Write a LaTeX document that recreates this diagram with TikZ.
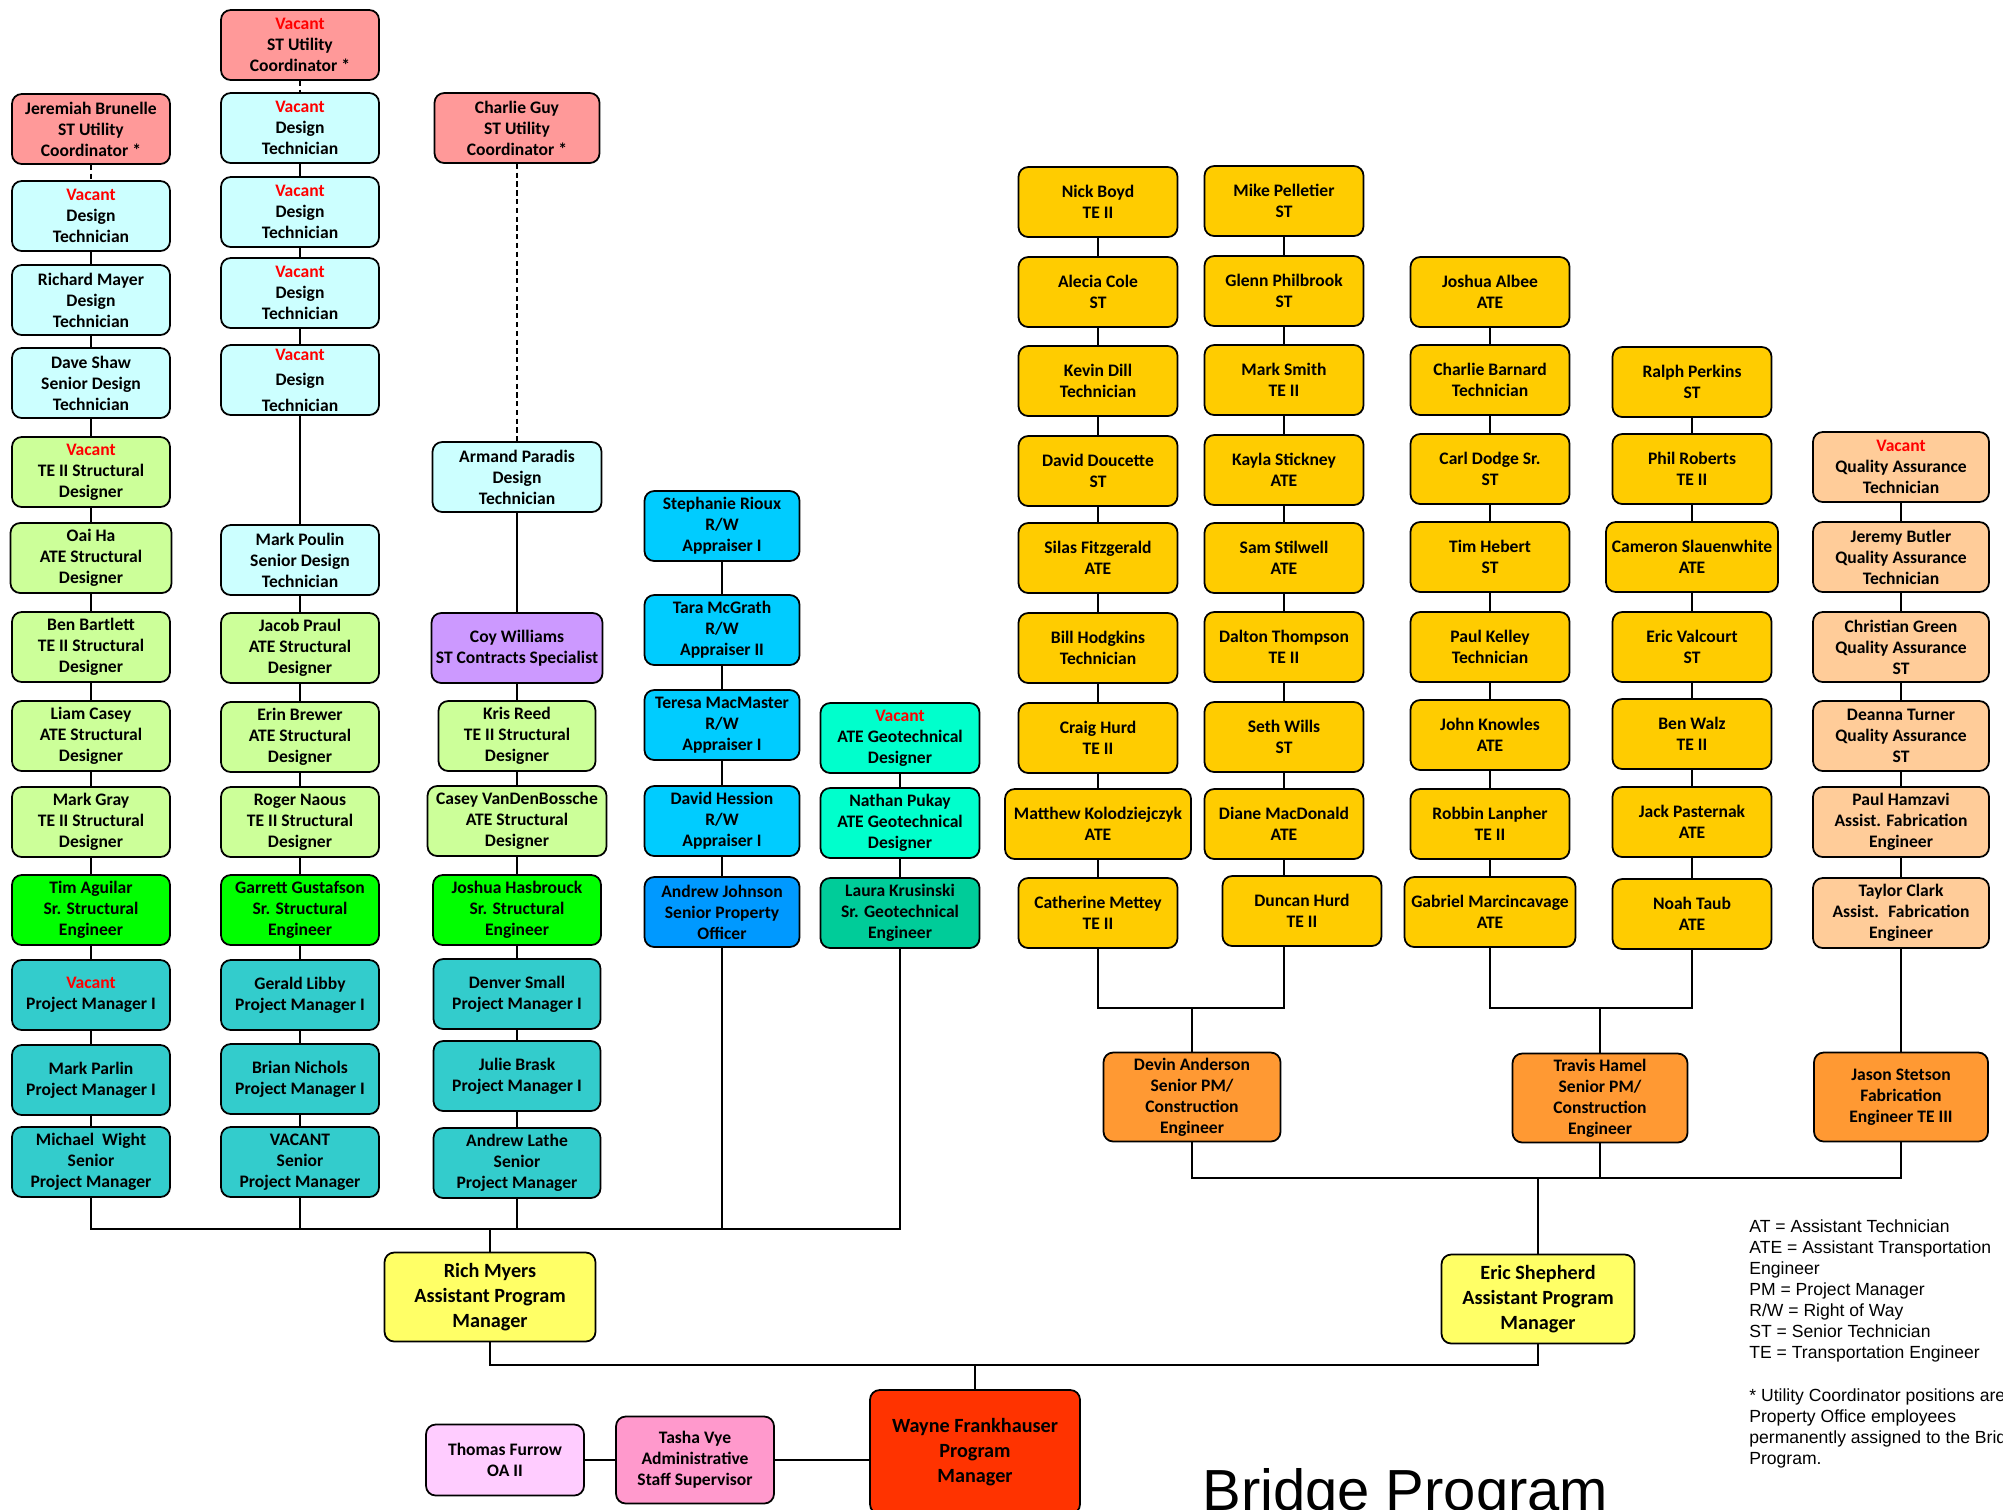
\documentclass[tikz,border=0pt]{standalone}
\usepackage{fontspec}
\setmainfont{Carlito}
\newfontfamily\arialfont{Liberation Sans}

\definecolor{utilpink}{HTML}{FF9999}
\definecolor{designcyan}{HTML}{CCFFFF}
\definecolor{structgreen}{HTML}{CCFF99}
\definecolor{srgreen}{HTML}{00FF00}
\definecolor{pmteal}{HTML}{33CCCC}
\definecolor{contractpurple}{HTML}{CC99FF}
\definecolor{rwblue}{HTML}{00CCFF}
\definecolor{spoblue}{HTML}{0099FF}
\definecolor{geoaqua}{HTML}{00FFCC}
\definecolor{srgeogreen}{HTML}{00CC99}
\definecolor{fieldgold}{HTML}{FFCC00}
\definecolor{qapeach}{HTML}{FFCC99}
\definecolor{consorange}{HTML}{FF9933}
\definecolor{apmyellow}{HTML}{FFFF66}
\definecolor{pgmred}{HTML}{FF3300}
\definecolor{adminpink}{HTML}{FF99CC}
\definecolor{oapink}{HTML}{FFCCFF}

\newcommand{\vac}{\textcolor{red}{Vacant}}

\tikzset{
  card/.style={draw=black, line width=1pt, rounded corners=5.5pt, align=center, inner sep=1pt,
    font=\bfseries\fontsize{10}{12}\selectfont, minimum width=3.16cm, minimum height=1.4cm},
  util/.style={card, fill=utilpink},
  design/.style={card, fill=designcyan},
  struct/.style={card, fill=structgreen},
  srstruct/.style={card, fill=srgreen},
  pm/.style={card, fill=pmteal},
  contract/.style={card, fill=contractpurple, minimum width=3.42cm},
  rw/.style={card, fill=rwblue, minimum width=3.1cm},
  spo/.style={card, fill=spoblue, minimum width=3.1cm},
  geo/.style={card, fill=geoaqua, minimum width=3.18cm},
  srgeo/.style={card, fill=srgeogreen, minimum width=3.18cm},
  field/.style={card, fill=fieldgold, minimum width=3.18cm},
  qa/.style={card, fill=qapeach, minimum width=3.52cm},
  cons/.style={card, fill=consorange, minimum height=1.78cm},
  apm/.style={card, fill=apmyellow, minimum height=1.78cm, font=\bfseries\fontsize{11.5}{14}\selectfont},
  link/.style={line width=1pt},
  dashlink/.style={line width=1pt, dash pattern=on 3pt off 2pt}
}

\begin{document}
\begin{tikzpicture}[x=0.02cm, y=-0.02cm]
  \path[use as bounding box, fill=white] (0,0) rectangle (2003,1509);

  % design / structural column 1
  \node[util] (jbrunelle) at (91,129) {Jeremiah Brunelle\\ST Utility\\Coordinator *};
  \node[design] (vdtA) at (91,216) {\vac\\Design\\Technician};
  \node[design] (rmayer) at (91,300) {Richard Mayer\\Design\\Technician};
  \node[design] (dshaw) at (91,383) {Dave Shaw\\Senior Design\\Technician};
  \node[struct] (vteA) at (91,472) {\vac\\TE II Structural\\Designer};
  \node[struct, minimum width=3.22cm] (oaiha) at (91,558) {Oai Ha\\ATE Structural\\Designer};
  \node[struct] (bbartlett) at (91,647) {Ben Bartlett\\TE II Structural\\Designer};
  \node[struct] (lcasey) at (91,736) {Liam Casey\\ATE Structural\\Designer};
  \node[struct] (mgray) at (91,822) {Mark Gray\\TE II Structural\\Designer};
  \node[srstruct] (taguilar) at (91,910) {Tim Aguilar\\Sr. Structural\\Engineer};
  \node[pm] (vpmA) at (91,995) {\vac\\Project Manager I};
  \node[pm] (mparlin) at (91,1080) {Mark Parlin\\Project Manager I};
  \node[pm] (mwight) at (91,1162) {Michael~ Wight\\Senior\\Project Manager};

  % column 2
  \node[util] (vstuc) at (300,45) {\vac\\ST Utility\\Coordinator *};
  \node[design] (vdtB) at (300,128) {\vac\\Design\\Technician};
  \node[design] (vdtC) at (300,212) {\vac\\Design\\Technician};
  \node[design] (vdtD) at (300,293) {\vac\\Design\\Technician};
  \node[design] (vdtE) at (300,380) {\vac\\[2.5pt]Design\\[2.5pt]Technician};
  \node[design] (mpoulin) at (300,560) {Mark Poulin\\Senior Design\\Technician};
  \node[struct] (jpraul) at (300,648) {Jacob Praul\\ATE Structural\\Designer};
  \node[struct] (ebrewer) at (300,737) {Erin Brewer\\ATE Structural\\Designer};
  \node[struct] (rnaous) at (300,822) {Roger Naous\\TE II Structural\\Designer};
  \node[srstruct] (ggustafson) at (300,910) {Garrett Gustafson\\Sr. Structural\\Engineer};
  \node[pm] (glibby) at (300,995) {Gerald Libby\\Project Manager I};
  \node[pm] (bnichols) at (300,1079) {Brian Nichols\\Project Manager I};
  \node[pm] (vspm) at (300,1162) {VACANT\\Senior\\Project Manager};

  % column 3
  \node[util, minimum width=3.3cm] (cguy) at (517,128) {Charlie Guy\\ST Utility\\Coordinator *};
  \node[design, minimum width=3.38cm] (aparadis) at (517,477) {Armand Paradis\\Design\\Technician};
  \node[contract] (cwilliams) at (517,648) {Coy Williams\\ST Contracts Specialist};
  \node[struct, minimum width=3.14cm] (kreed) at (517,736) {Kris Reed\\TE II Structural\\Designer};
  \node[struct, minimum width=3.58cm] (cvdb) at (517,821) {Casey VanDenBossche\\ATE Structural\\Designer};
  \node[srstruct, minimum width=3.36cm] (jhasbrouck) at (517,910) {Joshua Hasbrouck\\Sr. Structural\\Engineer};
  \node[pm, minimum width=3.34cm] (dsmall) at (517,994) {Denver Small\\Project Manager I};
  \node[pm, minimum width=3.34cm] (jbrask) at (517,1076) {Julie Brask\\Project Manager I};
  \node[pm, minimum width=3.34cm] (alathe) at (517,1163) {Andrew Lathe\\Senior\\Project Manager};

  % right of way
  \node[rw] (srioux) at (722,526) {Stephanie Rioux\\R/W\\Appraiser I};
  \node[rw] (tmcgrath) at (722,630) {Tara McGrath\\R/W\\Appraiser II};
  \node[rw] (tmacmaster) at (722,725) {Teresa MacMaster\\R/W\\Appraiser I};
  \node[rw] (dhession) at (722,821) {David Hession\\R/W\\Appraiser I};
  \node[spo] (ajohnson) at (722,912) {Andrew Johnson\\Senior Property\\Officer};

  % geotechnical
  \node[geo] (vgeo) at (900,738) {\vac\\ATE Geotechnical\\Designer};
  \node[geo] (npukay) at (900,823) {Nathan Pukay\\ATE Geotechnical\\Designer};
  \node[srgeo] (lkrusinski) at (900,913) {Laura Krusinski\\Sr. Geotechnical\\Engineer};

  % construction crews
  \node[field] (nboyd) at (1098,202) {Nick Boyd\\TE II};
  \node[field] (acole) at (1098,292) {Alecia Cole\\ST};
  \node[field] (kdill) at (1098,381) {Kevin Dill\\Technician};
  \node[field] (ddoucette) at (1098,471) {David Doucette\\ST};
  \node[field] (sfitzgerald) at (1098,558) {Silas Fitzgerald\\ATE};
  \node[field] (bhodgkins) at (1098,648) {Bill Hodgkins\\Technician};
  \node[field] (churd) at (1098,738) {Craig Hurd\\TE II};
  \node[field, minimum width=3.72cm] (mkolo) at (1098,824) {Matthew Kolodziejczyk\\ATE};
  \node[field] (cmettey) at (1098,913) {Catherine Mettey\\TE II};

  \node[field] (mpelletier) at (1284,201) {Mike Pelletier\\ST};
  \node[field] (gphilbrook) at (1284,291) {Glenn Philbrook\\ST};
  \node[field] (msmith) at (1284,380) {Mark Smith\\TE II};
  \node[field] (kstickney) at (1284,470) {Kayla Stickney\\ATE};
  \node[field] (sstilwell) at (1284,558) {Sam Stilwell\\ATE};
  \node[field] (dthompson) at (1284,647) {Dalton Thompson\\TE II};
  \node[field] (swills) at (1284,737) {Seth Wills\\ST};
  \node[field] (dmacdonald) at (1284,824) {Diane MacDonald\\ATE};
  \node[field] (dhurd) at (1302,911) {Duncan Hurd\\TE II};

  \node[field] (jalbee) at (1490,292) {Joshua Albee\\ATE};
  \node[field] (cbarnard) at (1490,380) {Charlie Barnard\\Technician};
  \node[field] (cdodge) at (1490,469) {Carl Dodge Sr.\\ST};
  \node[field] (thebert) at (1490,557) {Tim Hebert\\ST};
  \node[field] (pkelley) at (1490,647) {Paul Kelley\\Technician};
  \node[field] (jknowles) at (1490,735) {John Knowles\\ATE};
  \node[field] (rlanpher) at (1490,824) {Robbin Lanpher\\TE II};
  \node[field, minimum width=3.42cm] (gmarc) at (1490,912) {Gabriel Marcincavage\\ATE};

  \node[field] (rperkins) at (1692,382) {Ralph Perkins\\ST};
  \node[field] (proberts) at (1692,469) {Phil Roberts\\TE II};
  \node[field, minimum width=3.44cm] (cslauenwhite) at (1692,557) {Cameron Slauenwhite\\ATE};
  \node[field] (evalcourt) at (1692,647) {Eric Valcourt\\ST};
  \node[field] (bwalz) at (1692,734) {Ben Walz\\TE II};
  \node[field] (jpasternak) at (1692,822) {Jack Pasternak\\ATE};
  \node[field] (ntaub) at (1692,914) {Noah Taub\\ATE};

  % quality assurance / fabrication
  \node[qa] (vqa) at (1901,467) {\vac\\Quality Assurance\\Technician};
  \node[qa] (jbutler) at (1901,557) {Jeremy Butler\\Quality Assurance\\Technician};
  \node[qa] (cgreen) at (1901,647) {Christian Green\\Quality Assurance\\ST};
  \node[qa] (dturner) at (1901,736) {Deanna Turner\\Quality Assurance\\ST};
  \node[qa] (phamzavi) at (1901,822) {Paul Hamzavi\\Assist. Fabrication\\Engineer};
  \node[qa] (tclark) at (1901,913) {Taylor Clark\\Assist.~ Fabrication\\Engineer};

  \node[cons, minimum width=3.54cm] (danderson) at (1192,1097) {Devin Anderson\\Senior PM/\\Construction\\Engineer};
  \node[cons, minimum width=3.5cm] (thamel) at (1600,1098) {Travis Hamel\\Senior PM/\\Construction\\Engineer};
  \node[cons, minimum width=3.48cm] (jstetson) at (1901,1097) {Jason Stetson\\Fabrication\\Engineer TE III};

  % managers
  \node[apm, minimum width=4.22cm] (rmyers) at (490,1297) {Rich Myers\\Assistant Program\\Manager};
  \node[apm, minimum width=3.86cm] (eshepherd) at (1538,1299) {Eric Shepherd\\Assistant Program\\Manager};
  \node[apm, fill=pgmred, minimum width=4.2cm, minimum height=2.48cm] (wfrankhauser) at (975,1452) {Wayne Frankhauser\\Program\\Manager};
  \node[card, fill=adminpink, minimum height=1.74cm] (tvye) at (695,1460) {Tasha Vye\\Administrative\\Staff Supervisor};
  \node[card, fill=oapink, minimum height=1.42cm] (tfurrow) at (505,1460) {Thomas Furrow\\OA II};

  % reporting lines
  \foreach \a/\b in {vdtA/rmayer, rmayer/dshaw, dshaw/vteA, vteA/oaiha, oaiha/bbartlett,
      bbartlett/lcasey, lcasey/mgray, mgray/taguilar, taguilar/vpmA, vpmA/mparlin, mparlin/mwight,
      vdtB/vdtC, vdtC/vdtD, vdtD/vdtE, vdtE/mpoulin, mpoulin/jpraul, jpraul/ebrewer, ebrewer/rnaous,
      rnaous/ggustafson, ggustafson/glibby, glibby/bnichols, bnichols/vspm,
      aparadis/cwilliams, cwilliams/kreed, kreed/cvdb, cvdb/jhasbrouck, jhasbrouck/dsmall,
      dsmall/jbrask, jbrask/alathe,
      srioux/tmcgrath, tmcgrath/tmacmaster, tmacmaster/dhession, dhession/ajohnson,
      vgeo/npukay, npukay/lkrusinski,
      nboyd/acole, acole/kdill, kdill/ddoucette, ddoucette/sfitzgerald, sfitzgerald/bhodgkins,
      bhodgkins/churd, churd/mkolo, mkolo/cmettey,
      mpelletier/gphilbrook, gphilbrook/msmith, msmith/kstickney, kstickney/sstilwell,
      sstilwell/dthompson, dthompson/swills, swills/dmacdonald, dmacdonald/dhurd,
      jalbee/cbarnard, cbarnard/cdodge, cdodge/thebert, thebert/pkelley, pkelley/jknowles,
      jknowles/rlanpher, rlanpher/gmarc,
      rperkins/proberts, proberts/cslauenwhite, cslauenwhite/evalcourt, evalcourt/bwalz,
      bwalz/jpasternak, jpasternak/ntaub,
      vqa/jbutler, jbutler/cgreen, cgreen/dturner, dturner/phamzavi, phamzavi/tclark, tclark/jstetson}
    \draw[link] (\a.south) -- (\a.south |- \b.north);

  \draw[dashlink] (jbrunelle) -- (vdtA);
  \draw[dashlink] (vstuc) -- (vdtB);
  \draw[dashlink] (cguy) -- (aparadis);

  \coordinate (busA) at (0,1229);
  \coordinate (busB) at (0,1178);
  \coordinate (busC) at (0,1365);
  \coordinate (crew) at (0,1008);

  \draw[link] (mwight.south) |- (lkrusinski.south |- busA) -- (lkrusinski.south);
  \foreach \n in {vspm, alathe, ajohnson}
    \draw[link] (\n.south) -- (\n.south |- busA);
  \draw[link] (rmyers.north) -- (rmyers.north |- busA);

  \draw[link] (cmettey.south) |- (dmacdonald.south |- crew) -- (dmacdonald.south |- dhurd.south);
  \draw[link] (danderson.north) -- (danderson.north |- crew);
  \draw[link] (gmarc.south) |- (ntaub.south |- crew) -- (ntaub.south);
  \draw[link] (thamel.north) -- (thamel.north |- crew);

  \draw[link] (danderson.south) |- (jstetson.south |- busB) -- (jstetson.south);
  \draw[link] (thamel.south) -- (thamel.south |- busB);
  \draw[link] (eshepherd.north) -- (eshepherd.north |- busB);

  \draw[link] (rmyers.south) |- (eshepherd.south |- busC) -- (eshepherd.south);
  \draw[link] (wfrankhauser.north) -- (wfrankhauser.north |- busC);
  \draw[link] (tfurrow) -- (tvye);
  \draw[link] (tvye.east) -- (tvye.east -| wfrankhauser.west);

  % key
  \node[anchor=north west, align=left, inner sep=0pt, font=\arialfont\fontsize{10}{12}\selectfont] (legend) at (1749,1219)
    {AT = Assistant Technician\\ATE = Assistant Transportation\\Engineer\\PM = Project Manager\\R/W = Right of Way\\ST = Senior Technician\\TE = Transportation Engineer};
  \node[anchor=north west, align=left, inner sep=0pt, font=\arialfont\fontsize{10}{12}\selectfont] (note) at (1749,1388)
    {* Utility Coordinator positions are\\Property Office employees\\permanently assigned to the Bridge\\Program.};
  \node[anchor=base west, inner sep=0pt, font=\arialfont\fontsize{33}{36}\selectfont] (title) at (1202,1510) {Bridge Program};
\end{tikzpicture}
\end{document}
